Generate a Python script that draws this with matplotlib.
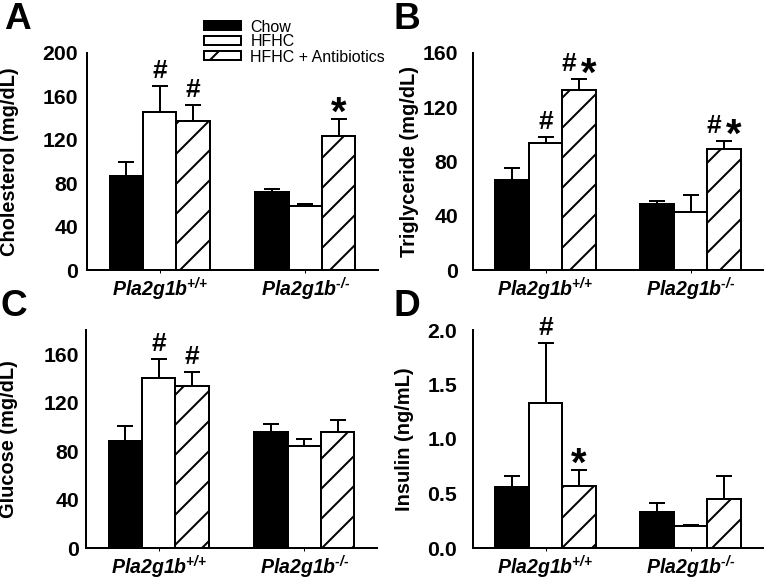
import numpy as np
import matplotlib
matplotlib.use('Agg')
import matplotlib.pyplot as plt
from matplotlib.patches import Patch

DPI = 180
W, H = 767, 582

plt.rcParams['font.family'] = ['Liberation Sans', 'DejaVu Sans']
plt.rcParams['mathtext.default'] = 'regular'
plt.rcParams['hatch.linewidth'] = 0.8
plt.rcParams['hatch.color'] = 'black'

groups = ['Pla2g1b$^{{+}/{+}}$', 'Pla2g1b$^{\u2010/\u2010}$']
series = ['Chow', 'HFHC', 'HFHC + Antibiotics']

# rows = series (Chow, HFHC, HFHC + Antibiotics), columns = genotype
chol_mean = [[87, 72], [146, 59], [137, 123.5]]
chol_err = [[12.5, 2.8], [24, 1.8], [15, 15.7]]
tg_mean = [[66, 49], [94, 43], [132.5, 89]]
tg_err = [[9, 1.7], [4, 12], [8, 6]]
glu_mean = [[88, 96], [140, 84], [133.5, 95.5]]
glu_err = [[13, 6], [16, 6], [12, 10]]
ins_mean = [[0.56, 0.33], [1.33, 0.20], [0.57, 0.445]]
ins_err = [[0.105, 0.086], [0.55, 0.015], [0.15, 0.22]]

# significance marks: (genotype, series, symbols)
chol_sig = [(0, 1, '#'), (0, 2, '#'), (1, 2, '*')]
tg_sig = [(0, 1, '#'), (0, 2, '#*'), (1, 2, '#*')]
glu_sig = [(0, 1, '#'), (0, 2, '#')]
ins_sig = [(0, 1, '#'), (0, 2, '*')]

faces = ['black', 'white', 'white']
hatches = [None, None, '//']
PX = 72 / DPI   # points per pixel


def draw_panel(ax, mean, err, sig, ylabel, ylim, yticks, fmt, ypad, label_x):
    x = np.arange(len(groups))
    w = 0.23
    for i in range(len(series)):
        xi = x + (i - 1) * w
        ax.bar(xi, mean[i], w, color=faces[i], edgecolor='black', linewidth=2 * PX,
               hatch=hatches[i], zorder=2, label=series[i])
        ax.errorbar(xi, mean[i], yerr=[np.zeros(len(groups)), err[i]], fmt='none',
                    ecolor='black', elinewidth=2 * PX, capsize=8 * PX, capthick=2 * PX, zorder=3)
    for g, s, sym in sig:
        xs = x[g] + (s - 1) * w
        top = mean[s][g] + err[s][g]
        if sym == '#*':
            parts = [('#', -10), ('*', 10)]
        else:
            parts = [(sym, 0)]
        for ch, dx in parts:
            if ch == '#':
                ax.annotate('#', (xs, top), xytext=(dx * PX, 8 * PX), textcoords='offset points',
                            ha='center', va='baseline', fontsize=10.5, fontweight='bold')
            else:
                ax.annotate('*', (xs, top), xytext=(dx * PX, -6 * PX), textcoords='offset points',
                            ha='center', va='baseline', fontsize=16, fontweight='bold')
    ax.set_xlim(-0.5, 1.5)
    ax.set_ylim(*ylim)
    ax.set_yticks(yticks)
    ax.set_yticklabels([fmt.format(v) for v in yticks])
    ax.set_xticks(x)
    ax.set_xticklabels(groups, fontsize=7.8, fontweight='bold', fontstyle='italic')
    ax.spines['top'].set_visible(False)
    ax.spines['right'].set_visible(False)
    for sp in ['left', 'bottom']:
        ax.spines[sp].set_linewidth(2 * PX)
    ax.tick_params(axis='y', length=0, pad=ypad * PX, labelsize=8.5)
    ax.tick_params(axis='x', length=3 * PX, width=1 * PX, pad=1)
    for t in ax.get_yticklabels():
        t.set_fontweight('bold')
    ax.set_ylabel(ylabel, fontsize=8, fontweight='bold')
    ax.yaxis.set_label_coords(label_x, 0.5)


fig = plt.figure(figsize=(W / DPI, H / DPI), dpi=DPI)
axA = fig.add_axes([87 / W, 1 - 270 / H, 291 / W, 217 / H])
axB = fig.add_axes([473 / W, 1 - 270 / H, 290 / W, 217 / H])
axC = fig.add_axes([86 / W, 1 - 548 / H, 291 / W, 218 / H])
axD = fig.add_axes([473 / W, 1 - 548 / H, 290 / W, 218 / H])

draw_panel(axA, chol_mean, chol_err, chol_sig, 'Cholesterol (mg/dL)', (0, 200),
           [0, 40, 80, 120, 160, 200], '{:.0f}', 9, -0.234)
draw_panel(axB, tg_mean, tg_err, tg_sig, 'Triglyceride (mg/dL)', (0, 160),
           [0, 40, 80, 120, 160], '{:.0f}', 15, -0.186)
draw_panel(axC, glu_mean, glu_err, glu_sig, 'Glucose (mg/dL)', (0, 180),
           [0, 40, 80, 120, 160], '{:.0f}', 7, -0.232)
draw_panel(axD, ins_mean, ins_err, ins_sig, 'Insulin (ng/mL)', (0, 2.0),
           [0, 0.5, 1.0, 1.5, 2.0], '{:.1f}', 16, -0.205)

for letter, px, py in [('A', 4, 2), ('B', 394, 2), ('C', 1, 289), ('D', 394, 289)]:
    fig.text(px / W, 1 - py / H, letter, ha='left', va='top', fontsize=14.8, fontweight='bold')

handles = [Patch(facecolor=faces[i], edgecolor='black', linewidth=2 * PX, hatch=hatches[i])
           for i in range(len(series))]
fig.legend(handles, series, loc='upper left', bbox_to_anchor=(204 / W, 1 - 19.5 / H),
           frameon=False, fontsize=6.4, handlelength=2.33, handleheight=0.5,
           handletextpad=0.57, labelspacing=0.0, borderpad=0, borderaxespad=0)

fig.savefig('out.png', dpi=DPI)
